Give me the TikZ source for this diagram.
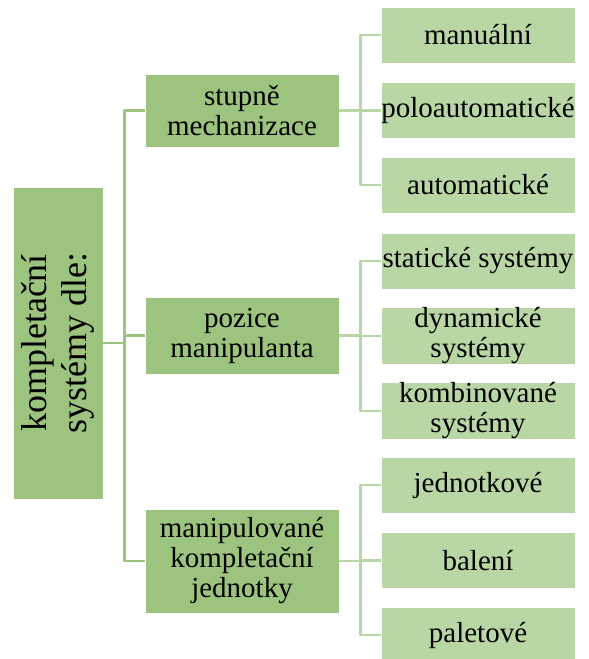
\documentclass[tikz,border=0pt]{standalone}
\usepackage{fontspec}
\setmainfont{Liberation Serif}
\definecolor{zelenaT}{RGB}{157,196,126}
\definecolor{zelenaS}{RGB}{185,215,164}
\begin{document}
\begin{tikzpicture}[x=1pt,y=-1pt,line join=round,
	koren/.style={fill=zelenaT,draw=white,line width=0.6pt,rotate=90,minimum width=312pt,minimum height=90pt,align=center,inner sep=0pt,font=\fontsize{36}{40}\selectfont},
	kat/.style={fill=zelenaT,draw=white,line width=0.6pt,minimum width=194pt,align=center,inner sep=0pt,font=\fontsize{29}{30}\selectfont},
	pol/.style={fill=zelenaS,draw=white,line width=0.6pt,minimum width=194pt,minimum height=56pt,align=center,inner sep=0pt,font=\fontsize{29}{30}\selectfont},
	spojT/.style={draw=zelenaT,line width=2.5pt},
	spojS/.style={draw=zelenaS,line width=2.5pt}]
	\useasboundingbox (0,0) rectangle (589,659);
	% koren
	\node[koren] (K) at (58,343) {kompletační\\systémy dle:};
	% kategorie
	\node[kat,minimum height=73pt] (S) at (242,110.5) {stupně\\mechanizace};
	\node[kat,minimum height=77pt] (P) at (242,335.5) {pozice\\manipulanta};
	\node[kat,minimum height=104pt] (J) at (242,561) {manipulované\\kompletační\\jednotky};
	% polozky
	\node[pol] (S1) at (478,35) {manuální};
	\node[pol] (S2) at (478,110.5) {poloautomatické};
	\node[pol] (S3) at (478,185) {automatické};
	\node[pol] (P1) at (478,261) {statické systémy};
	\node[pol] (P2) at (478,336) {dynamické\\systémy};
	\node[pol] (P3) at (478,411) {kombinované\\systémy};
	\node[pol] (J1) at (478,485) {jednotkové};
	\node[pol] (J2) at (478,560.5) {balení};
	\node[pol] (J3) at (478,635) {paletové};
	% spojnice
	\foreach \k in {S,P,J} \draw[spojT] (K.south) -- ++(21,0) |- (\k.west);
	\foreach \k in {S,P,J} \foreach \i in {1,2,3} \draw[spojS] (\k.east) -- ++(21,0) |- (\k\i.west);
\end{tikzpicture}
\end{document}
